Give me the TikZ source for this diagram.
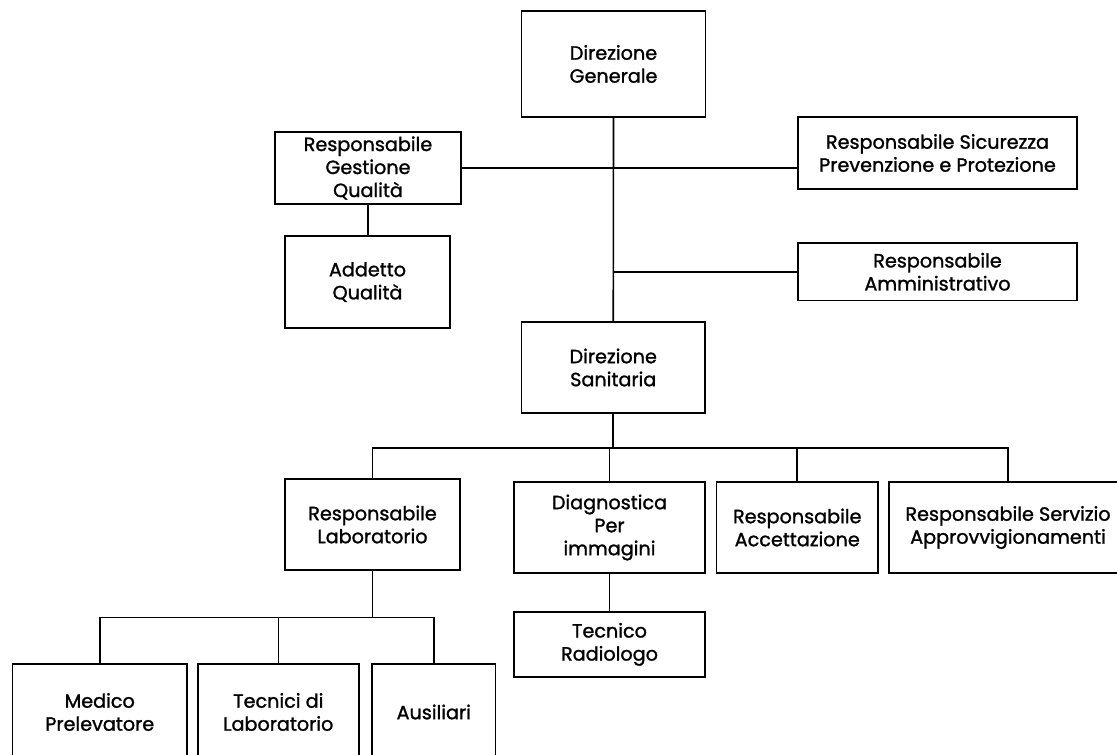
\documentclass[tikz,border=0pt]{standalone}
\usepackage{fontspec}
\setmainfont{Poppins}
\newfontfamily\boxfont{Poppins}[FakeBold=1.3]

\begin{document}
\begin{tikzpicture}[x=0.5pt,y=-0.5pt,
    box/.style={draw,line width=0.9pt,inner sep=1pt,align=center,font=\boxfont\fontsize{9.6}{11.5}\selectfont},
    link/.style={line width=0.8pt}]
    \clip (0,0) rectangle (1117,754);
    \def\boxes{dg/613.5/64/92/53/{Direzione\\Generale},
      rgq/368/168/93.25/36/{Responsabile\\Gestione\\Qualità},
      rspp/937.5/153/139.5/36/{Responsabile Sicurezza\\Prevenzione e Protezione},
      aq/367.5/282/82.5/46/{Addetto\\Qualità},
      ra/937.5/271.75/139.5/28.75/{Responsabile\\Amministrativo},
      ds/613.25/367.5/91.75/45.5/{Direzione\\Sanitaria},
      rl/372.5/524.5/87.5/45.5/{Responsabile\\Laboratorio},
      dpi/609.5/527.5/95.5/45.5/{Diagnostica\\Per\\immagini},
      rac/797.25/527.5/80.75/45.5/{Responsabile\\Accettazione},
      rsa/1008/527.5/119/45.5/{Responsabile Servizio\\Approvvigionamenti},
      tr/609.5/644.35/95.5/32.65/{Tecnico\\Radiologo},
      mp/99.75/712/87.25/48/{Medico\\Prelevatore},
      tl/278.3/712/80.3/48/{Tecnici di\\Laboratorio},
      au/433.75/712/61.75/48/{Ausiliari}}
    % name/x/y/width/height/text
    \foreach \n/\x/\y/\w/\h/\t in \boxes {\node[box,minimum width=\w pt,minimum height=\h pt] (\n) at (\x,\y) {\t};}
    \draw[link] (dg.south)--(ds.north);
    \draw[link] (rgq.east)--(rgq.east -| rspp.west);
    \draw[link] (ra.west -| dg.south)--(ra.west);
    \draw[link] (rgq.south)--(rgq.south |- aq.north);
    \draw[link] (ds.south)--++(0,34) coordinate (bus);
    \draw[link] (rl.north) |- (bus) -| (rsa.north);
    \draw[link] (dpi.north)--(dpi.north |- bus);
    \draw[link] (rac.north)--(rac.north |- bus);
    \draw[link] (dpi.south)--(tr.north);
    \draw[link] (rl.south)--++(0,46.5) coordinate (sub);
    \draw[link] (mp.north) |- (sub) -| (au.north);
    \draw[link] (tl.north)--(tl.north |- sub);
  \end{tikzpicture}
\end{document}
